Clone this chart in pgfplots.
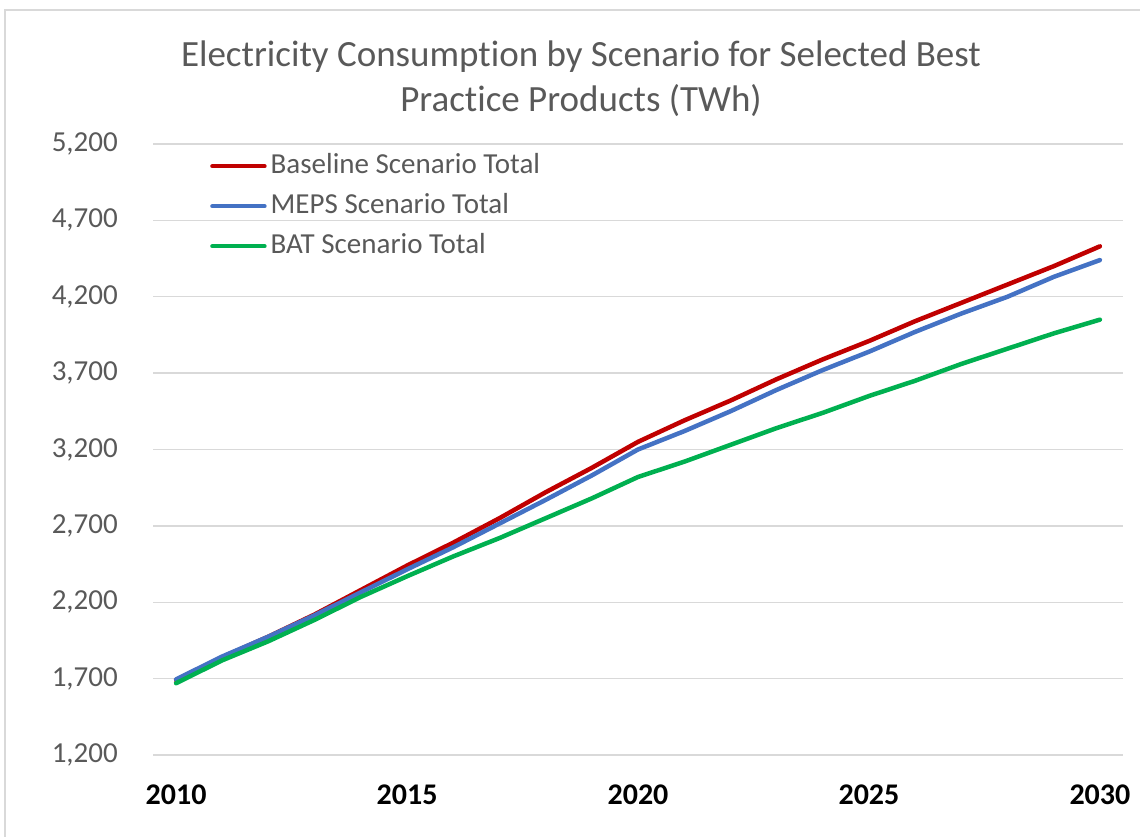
\documentclass[border=0pt]{standalone}
\usepackage{fontspec}
\setmainfont{Carlito}[Ligatures={NoCommon}]
\usepackage{pgfplots}
\pgfplotsset{compat=1.18}
\definecolor{baseR}{HTML}{C00000}
\definecolor{mepsB}{HTML}{4472C4}
\definecolor{batG}{HTML}{00B050}
\definecolor{txtgray}{HTML}{595959}
\definecolor{gridgray}{HTML}{D9D9D9}
\pgfplotstableread{
year base meps bat
2010 1690 1695 1670
2011 1840 1845 1820
2012 1975 1975 1945
2013 2120 2115 2085
2014 2280 2265 2235
2015 2440 2415 2370
2016 2590 2560 2500
2017 2750 2715 2620
2018 2920 2870 2750
2019 3080 3030 2880
2020 3250 3200 3020
2021 3390 3320 3120
2022 3520 3450 3230
2023 3660 3590 3340
2024 3790 3720 3440
2025 3910 3840 3550
2026 4040 3970 3650
2027 4160 4090 3760
2028 4280 4200 3860
2029 4400 4330 3960
2030 4530 4440 4050
}\datatable
\begin{document}
\begin{tikzpicture}[x=1pt,y=1pt]
\useasboundingbox (0,0) rectangle (1140,837);
\draw[gridgray, line width=2pt] (5,0) -- (5,827) -- (1140,827);
\node[font=\fontsize{37}{45}\selectfont, text=txtgray, align=center] at (581,758) {Electricity Consumption by Scenario for Selected Best\\Practice Products (TWh)};
\begin{axis}[
  at={(153pt,82pt)}, anchor=south west,
  scale only axis, width=970pt, height=611pt,
  xmin=2009.5, xmax=2030.5, ymin=1200, ymax=5200,
  axis line style={draw=none},
  tick style={draw=none},
  major tick length=0pt,
  ytick={1200,1700,...,5200},
  xtick={2010,2015,...,2030},
  ymajorgrids, grid style={gridgray, line width=1.3pt},
  /pgf/number format/assume math mode=true,
  yticklabel style={font=\fontsize{29}{29}\selectfont, text=txtgray, inner sep=0pt, anchor=east, xshift=-35pt, /pgf/number format/1000 sep={,}},
  xticklabel style={font=\fontsize{30}{30}\selectfont\bfseries, text=black, inner sep=0pt, anchor=north, yshift=-30pt, /pgf/number format/1000 sep={}},
  legend cell align=left,
  legend style={at={(axis description cs:0,1)}, anchor=north west, xshift=57pt, yshift=-9pt, draw=none, fill=none, inner sep=0pt,
    font=\fontsize{29}{29}\selectfont, text=txtgray,
    nodes={text height=20pt, text depth=6pt, inner ysep=0pt, inner xsep=4pt},
    row sep=14pt},
  legend image code/.code={\draw[#1, line width=4.5pt] (0pt,0pt) -- (52pt,0pt);},
  every axis plot/.append style={line width=4.5pt, line cap=round, line join=round},
]
\addplot[baseR] table[x=year, y=base] {\datatable};
\addlegendentry{Baseline Scenario Total}
\addplot[mepsB] table[x=year, y=meps] {\datatable};
\addlegendentry{MEPS Scenario Total}
\addplot[batG] table[x=year, y=bat] {\datatable};
\addlegendentry{BAT Scenario Total}
\end{axis}
\end{tikzpicture}
\end{document}
